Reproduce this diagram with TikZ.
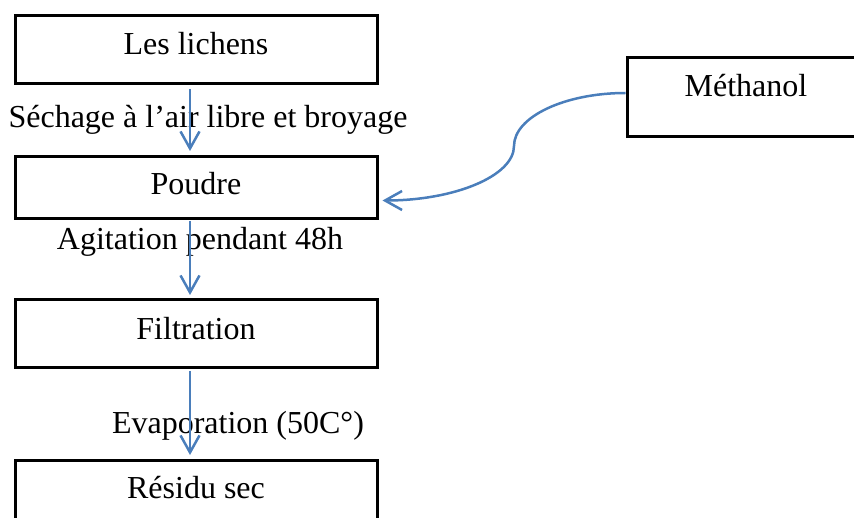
\documentclass[tikz,border=0pt]{standalone}
\usepackage{fontspec}
\setmainfont{Liberation Serif}
\usetikzlibrary{arrows.meta}
\definecolor{flowblue}{HTML}{4A7EBB}
\begin{document}
\begin{tikzpicture}[x=1pt, y=-1pt, font=\fontsize{32}{38}\selectfont]
    \tikzstyle{box}=[draw, line width=3pt, inner sep=0pt, anchor=north, minimum width=362pt, text height=39pt];
    \tikzstyle{flow}=[draw=flowblue, line width=2.5pt, -{Straight Barb[length=17pt, width=19pt, line width=2.5pt]}];
    \useasboundingbox (0,0) rectangle (854,518);

    \node (lichens) at (196, 14) [box, text depth=29pt] {Les lichens};
    \node (poudre) at (196, 155) [box, text height=38pt, text depth=24pt] {Poudre};
    \node (filtration) at (196, 298) [box, text height=40pt, text depth=28pt] {Filtration};
    \node (residu) at (196, 459) [box, text height=38pt, text depth=32pt] {Résidu sec};

    \node (methanol) at (746, 56) [box, minimum width=238pt, text depth=40pt] {Méthanol};

    % labels first, the arrows go over them
    \node (sechage) at (208, 128) [anchor=base, inner sep=0pt] {Séchage à l’air libre et broyage};
    \node (agitation) at (200, 250) [anchor=base, inner sep=0pt] {Agitation pendant 48h};
    \node (evaporation) at (238, 433) [anchor=base, inner sep=0pt] {Evaporation (50C°)};

    \draw ([xshift=-6pt]lichens.south) edge[flow, shorten <=4pt, shorten >=4pt] ([xshift=-6pt]poudre.north);
    \draw ([xshift=-6pt]poudre.south) edge[flow, shorten <=1pt, shorten >=3pt] ([xshift=-6pt]filtration.north);
    \draw ([xshift=-6pt]filtration.south) edge[flow, shorten <=2pt, shorten >=4pt] ([xshift=-6pt]residu.north);

    \coordinate (bend) at (514, 146);
    \coordinate (tip) at ([xshift=4pt, yshift=-13pt]poudre.east);
    \draw[flow] ([yshift=4pt]methanol.west) .. controls +(-61,0) and +(0,-29) .. (bend)
        .. controls +(0,30) and +(72,0) .. (tip);

\end{tikzpicture}
\end{document}
